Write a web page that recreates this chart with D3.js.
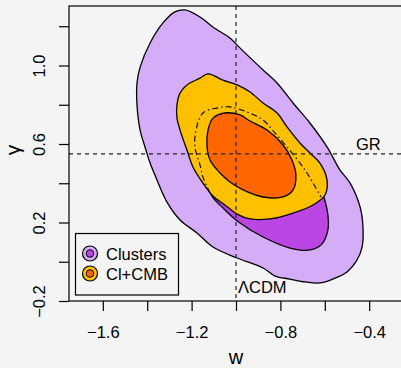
<!DOCTYPE html>
<html>
<head>
<meta charset="utf-8">
<script src="https://cdn.jsdelivr.net/npm/d3@7"></script>
<style>
  html, body { margin: 0; padding: 0; background: #f4f4f4; }
  svg { display: block; font-family: "Liberation Sans", Arial, sans-serif; }
</style>
</head>
<body>
<svg id="chart" width="401" height="368"></svg>
<script>
// Axis ticks and labels
const xTicks = [-1.6, -1.4, -1.2, -1.0, -0.8, -0.6, -0.4];
const xTickLabels = ["\u22121.6", "", "\u22121.2", "", "\u22120.8", "", "\u22120.4"];
const yTicks = [-0.2, 0.0, 0.2, 0.4, 0.6, 0.8, 1.0, 1.2];
const yTickLabels = ["\u22120.2", "", "0.2", "", "0.6", "", "1.0", ""];

// Reference models
const wLCDM = -1.0;
const gammaGR = 0.55;

// Confidence contours in (w, gamma)
const clusters95 = [
  [-1.275, 1.273], [-1.230, 1.283], [-1.162, 1.247], [-1.104, 1.196], [-1.027, 1.140],
  [-0.995, 1.104], [-0.950, 1.054], [-0.878, 0.977], [-0.815, 0.911], [-0.743, 0.809],
  [-0.667, 0.707], [-0.590, 0.585], [-0.532, 0.468], [-0.486, 0.401], [-0.441, 0.279],
  [-0.428, 0.177], [-0.432, 0.075], [-0.455, 0.009], [-0.500, -0.052], [-0.563, -0.088],
  [-0.622, -0.108], [-0.689, -0.103], [-0.757, -0.088], [-0.824, -0.073], [-0.878, -0.032],
  [-0.995, 0.019], [-1.104, 0.075], [-1.176, 0.147], [-1.252, 0.213], [-1.311, 0.304],
  [-1.356, 0.417], [-1.387, 0.503], [-1.410, 0.585], [-1.432, 0.671], [-1.446, 0.799],
  [-1.446, 0.911], [-1.432, 0.992], [-1.387, 1.115], [-1.329, 1.217]
];
const clusters68 = [
  [-0.937, 0.697], [-0.802, 0.671], [-0.721, 0.569], [-0.640, 0.442], [-0.604, 0.330],
  [-0.586, 0.238], [-0.586, 0.162], [-0.613, 0.090], [-0.667, 0.060], [-0.757, 0.070],
  [-0.878, 0.126], [-0.982, 0.197], [-1.063, 0.279], [-1.113, 0.345], [-1.108, 0.417],
  [-1.090, 0.518], [-1.036, 0.631]
];
const clCmb95 = [
  [-1.126, 0.957], [-1.059, 0.926], [-0.995, 0.901], [-0.937, 0.865], [-0.878, 0.809],
  [-0.815, 0.758], [-0.770, 0.687], [-0.712, 0.605], [-0.667, 0.554], [-0.622, 0.503],
  [-0.590, 0.417], [-0.599, 0.340], [-0.653, 0.289], [-0.743, 0.248], [-0.847, 0.218],
  [-0.937, 0.218], [-0.995, 0.243], [-1.050, 0.289], [-1.104, 0.335], [-1.149, 0.401],
  [-1.194, 0.483], [-1.221, 0.569], [-1.252, 0.671], [-1.266, 0.732], [-1.266, 0.799],
  [-1.252, 0.860], [-1.221, 0.901], [-1.162, 0.936]
];
const clCmb68 = [
  [-1.050, 0.758], [-0.982, 0.748], [-0.937, 0.717], [-0.860, 0.671], [-0.788, 0.595],
  [-0.748, 0.518], [-0.730, 0.442], [-0.743, 0.366], [-0.788, 0.330], [-0.878, 0.330],
  [-0.968, 0.366], [-1.027, 0.406], [-1.072, 0.452], [-1.117, 0.518], [-1.131, 0.595],
  [-1.126, 0.671], [-1.104, 0.732]
];
const dashDotContour = [
  [-1.117, 0.350], [-1.149, 0.432], [-1.162, 0.493], [-1.185, 0.585], [-1.180, 0.671],
  [-1.149, 0.758], [-1.086, 0.783], [-1.027, 0.789], [-0.950, 0.763], [-0.878, 0.722],
  [-0.824, 0.656], [-0.770, 0.585], [-0.712, 0.503], [-0.680, 0.452], [-0.653, 0.401],
  [-0.617, 0.330]
];

const legendNames = ["Clusters", "Cl+CMB"];
const colors = {
  clusters95: "#d4acf7",
  clusters68: "#bb46e3",
  clCmb95: "#ffc000",
  clCmb68: "#ff6600"
};

const svg = d3.select("#chart");
const margin = { left: 69, top: 6, right: -2, bottom: 67 };
const W = 401, H = 368;
const plotL = margin.left, plotR = W - margin.right, plotT = margin.top, plotB = H - margin.bottom;

const x = d3.scaleLinear().domain([-1.7523, -0.2477]).range([plotL, plotR]);
const y = d3.scaleLinear().domain([-0.2, 1.3032]).range([plotB, plotT]);

const clipId = "plotclip";
svg.append("clipPath").attr("id", clipId)
  .append("rect").attr("x", plotL).attr("y", plotT)
  .attr("width", plotR - plotL).attr("height", plotB - plotT);

const plot = svg.append("g").attr("clip-path", `url(#${clipId})`);

const closed = d3.line().x(d => x(d[0])).y(d => y(d[1])).curve(d3.curveCatmullRomClosed.alpha(0.5));
const open = d3.line().x(d => x(d[0])).y(d => y(d[1])).curve(d3.curveCatmullRom.alpha(0.5));

const fills = [
  [clusters95, colors.clusters95],
  [clusters68, colors.clusters68],
  [clCmb95, colors.clCmb95],
  [clCmb68, colors.clCmb68]
];
fills.forEach(([pts, col]) => {
  plot.append("path").attr("d", closed(pts))
    .attr("fill", col).attr("stroke", "#000").attr("stroke-width", 1.3)
    .attr("stroke-linejoin", "round");
});

plot.append("path").attr("d", open(dashDotContour))
  .attr("fill", "none").attr("stroke", "#000").attr("stroke-width", 1.1)
  .attr("stroke-dasharray", "6,3,1.5,3");

// GR and LCDM reference lines
plot.append("line")
  .attr("x1", plotL).attr("x2", plotR)
  .attr("y1", y(gammaGR)).attr("y2", y(gammaGR))
  .attr("stroke", "#222").attr("stroke-width", 1.2).attr("stroke-dasharray", "4,4");
plot.append("line")
  .attr("x1", x(wLCDM)).attr("x2", x(wLCDM))
  .attr("y1", plotT).attr("y2", plotB)
  .attr("stroke", "#222").attr("stroke-width", 1.2).attr("stroke-dasharray", "4,4");

svg.append("text").attr("x", 356).attr("y", 150)
  .attr("font-size", 16.5).attr("fill", "#000").text("GR");
svg.append("text").attr("x", x(wLCDM) + 2).attr("y", 293)
  .attr("font-size", 16.5).attr("fill", "#000").text("\u039BCDM");

// Frame
svg.append("rect")
  .attr("x", plotL).attr("y", plotT)
  .attr("width", plotR - plotL).attr("height", plotB - plotT)
  .attr("fill", "none").attr("stroke", "#000").attr("stroke-width", 1.2);

// Axes
const xAxis = svg.append("g").attr("transform", `translate(0,${plotB})`)
  .call(d3.axisBottom(x).tickValues(xTicks).tickSize(10)
    .tickFormat((d, i) => xTickLabels[i]));
xAxis.select(".domain").remove();
xAxis.selectAll(".tick line").attr("stroke", "#000").attr("stroke-width", 1.2);
xAxis.selectAll(".tick text")
  .attr("y", 37).attr("dy", null)
  .attr("font-size", 16.5).attr("font-family", "Liberation Sans, Arial, sans-serif")
  .attr("fill", "#000");

const yAxis = svg.append("g").attr("transform", `translate(${plotL},0)`)
  .call(d3.axisLeft(y).tickValues(yTicks).tickSize(10)
    .tickFormat((d, i) => yTickLabels[i]));
yAxis.select(".domain").remove();
yAxis.selectAll(".tick line").attr("stroke", "#000").attr("stroke-width", 1.2);
yAxis.selectAll(".tick text")
  .attr("transform", "rotate(-90)")
  .attr("x", 0).attr("y", -24).attr("dy", null)
  .attr("text-anchor", "middle")
  .attr("font-size", 16.5).attr("font-family", "Liberation Sans, Arial, sans-serif")
  .attr("fill", "#000");

svg.append("text")
  .attr("x", 236).attr("y", 364)
  .attr("text-anchor", "middle").attr("font-size", 20).text("w");
svg.append("text")
  .attr("transform", `translate(20,150) rotate(-90)`)
  .attr("text-anchor", "middle").attr("font-size", 21).text("\u03B3");

// Legend
const leg = svg.append("g");
leg.append("rect").attr("x", 75.5).attr("y", 233.5).attr("width", 103).attr("height", 61.5)
  .attr("fill", "#f4f4f4").attr("stroke", "#000").attr("stroke-width", 1.2);
const legendColors = [[colors.clusters95, colors.clusters68], [colors.clCmb95, colors.clCmb68]];
legendNames.forEach((name, i) => {
  const cy = 253.5 + i * 20;
  leg.append("circle").attr("cx", 90).attr("cy", cy).attr("r", 7.5)
    .attr("fill", legendColors[i][0]).attr("stroke", "#000").attr("stroke-width", 1.2);
  leg.append("circle").attr("cx", 90).attr("cy", cy).attr("r", 3.8)
    .attr("fill", legendColors[i][1]).attr("stroke", "#000").attr("stroke-width", 1);
  leg.append("text").attr("x", 106).attr("y", cy + 6.5)
    .attr("font-size", 16.5).text(name);
});
</script>
</body>
</html>
